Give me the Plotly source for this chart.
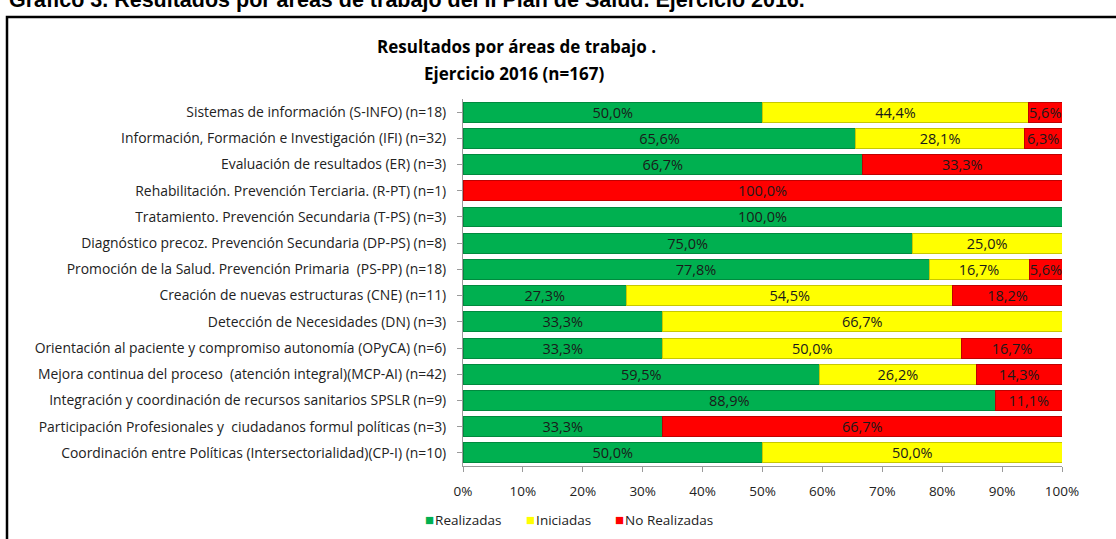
import plotly.graph_objects as go

#### Datos: resultados por áreas de trabajo, ejercicio 2016 ####

areas = [
    "Sistemas de información (S-INFO) (n=18)",
    "Información, Formación e Investigación (IFI) (n=32)",
    "Evaluación de resultados (ER) (n=3)",
    "Rehabilitación. Prevención Terciaria. (R-PT) (n=1)",
    "Tratamiento. Prevención Secundaria (T-PS) (n=3)",
    "Diagnóstico precoz. Prevención Secundaria (DP-PS) (n=8)",
    "Promoción de la Salud. Prevención Primaria  (PS-PP) (n=18)",
    "Creación de nuevas estructuras (CNE) (n=11)",
    "Detección de Necesidades (DN) (n=3)",
    "Orientación al paciente y compromiso autonomía (OPyCA) (n=6)",
    "Mejora continua del proceso  (atención integral)(MCP-AI) (n=42)",
    "Integración y coordinación de recursos sanitarios SPSLR (n=9)",
    "Participación Profesionales y  ciudadanos formul políticas (n=3)",
    "Coordinación entre Políticas (Intersectorialidad)(CP-I) (n=10)",
]
realizadas = [50.0, 65.6, 66.7, None, 100.0, 75.0, 77.8, 27.3, 33.3, 33.3, 59.5, 88.9, 33.3, 50.0]
iniciadas = [44.4, 28.1, None, None, None, 25.0, 16.7, 54.5, 66.7, 50.0, 26.2, None, None, 50.0]
no_realizadas = [5.6, 6.3, 33.3, 100.0, None, None, 5.6, 18.2, None, 16.7, 14.3, 11.1, 66.7, None]
ticks_x = [0, 10, 20, 30, 40, 50, 60, 70, 80, 90, 100]
ticks_txt = ["0%", "10%", "20%", "30%", "40%", "50%", "60%", "70%", "80%", "90%", "100%"]

FONT = "Open Sans, Liberation Sans, sans-serif"

series = [
    ("Realizadas", realizadas, "#00B050", "#008A3E"),
    ("Iniciadas", iniciadas, "#FFFF00", "#C8C800"),
    ("No Realizadas", no_realizadas, "#FF0000", "#C00000"),
]

fig = go.Figure()
for nombre, valores, color, borde in series:
    fig.add_trace(go.Bar(
        y=areas, x=valores, name=nombre, orientation="h", showlegend=False,
        marker=dict(color=color, line=dict(color=borde, width=1)),
        texttemplate="%{x:.1f}%", textposition="inside",
        insidetextanchor="middle", constraintext="none",
        textfont=dict(family=FONT, size=14.5, color="#1a1a1a"),
        hoverinfo="skip",
    ))

H_T, H_B = 99, 73
plot_h = 539 - H_T - H_B
plot_w = 1062 - 463

def py(pix):
    return (539 - H_B - pix) / plot_h

def px_(pix):
    return (pix - 463) / plot_w

# leyenda compacta (cuadrado pequeño pegado al texto), como en el original
leyenda = []
for (nombre, _, color, _), xpos in zip(series, [423, 524, 613]):
    leyenda.append(dict(
        text=f'<span style="color:{color};font-size:15px">■</span><span style="font-size:4px"> </span>{nombre}',
        xref="paper", yref="paper", x=px_(xpos), y=py(519),
        xanchor="left", yanchor="middle", showarrow=False,
        font=dict(family=FONT, size=13.5, color="#222")))

fig.update_layout(
    barmode="stack", bargap=0.24,
    width=1116, height=539,
    margin=dict(l=463, r=1116 - 1062, t=H_T, b=H_B, autoexpand=False),
    paper_bgcolor="white", plot_bgcolor="white",
    separators=",.",
    font=dict(family=FONT, size=14, color="#222"),
    showlegend=False,
    xaxis=dict(range=[0, 100], tickvals=ticks_x, ticktext=ticks_txt, showgrid=False,
               showline=True, linecolor="#9a9a9a", linewidth=1, automargin=False,
               ticks="outside", ticklen=5, tickcolor="#9a9a9a", zeroline=False,
               ticklabelstandoff=8,
               tickfont=dict(family=FONT, size=13.5, color="#222"), fixedrange=True),
    yaxis=dict(autorange="reversed", showline=True, linecolor="#9a9a9a", linewidth=1,
               ticks="outside", ticklen=5, tickcolor="#9a9a9a", showgrid=False,
               automargin=False, ticklabelstandoff=8,
               tickfont=dict(family=FONT, size=13.9, color="#222"), fixedrange=True),
    annotations=[
        dict(text="<b>Resultados por áreas de trabajo .</b>", xref="paper", yref="paper",
             x=px_(516), y=py(47), xanchor="center", yanchor="middle", showarrow=False,
             font=dict(family=FONT, size=17, color="black")),
        dict(text="<b>Ejercicio 2016 (n=167)</b>", xref="paper", yref="paper",
             x=px_(514), y=py(73), xanchor="center", yanchor="middle", showarrow=False,
             font=dict(family=FONT, size=17, color="black")),
        dict(text="<b>Gráfico 3. Resultados por áreas de trabajo del II Plan de Salud. Ejercicio 2016.</b>",
             xref="paper", yref="paper", x=px_(7), y=py(0), xanchor="left", yanchor="middle",
             showarrow=False, font=dict(family="Liberation Sans, Arial", size=21.5, color="black")),
    ] + leyenda,
    shapes=[
        dict(type="rect", xref="paper", yref="paper", x0=px_(7), x1=px_(1130),
             y0=py(560), y1=py(17), line=dict(color="black", width=2.5), layer="above"),
    ],
)

fig.write_html("out.html", config={"displayModeBar": False},
               post_script="document.body.style.margin='0';document.body.style.overflow='hidden';")
